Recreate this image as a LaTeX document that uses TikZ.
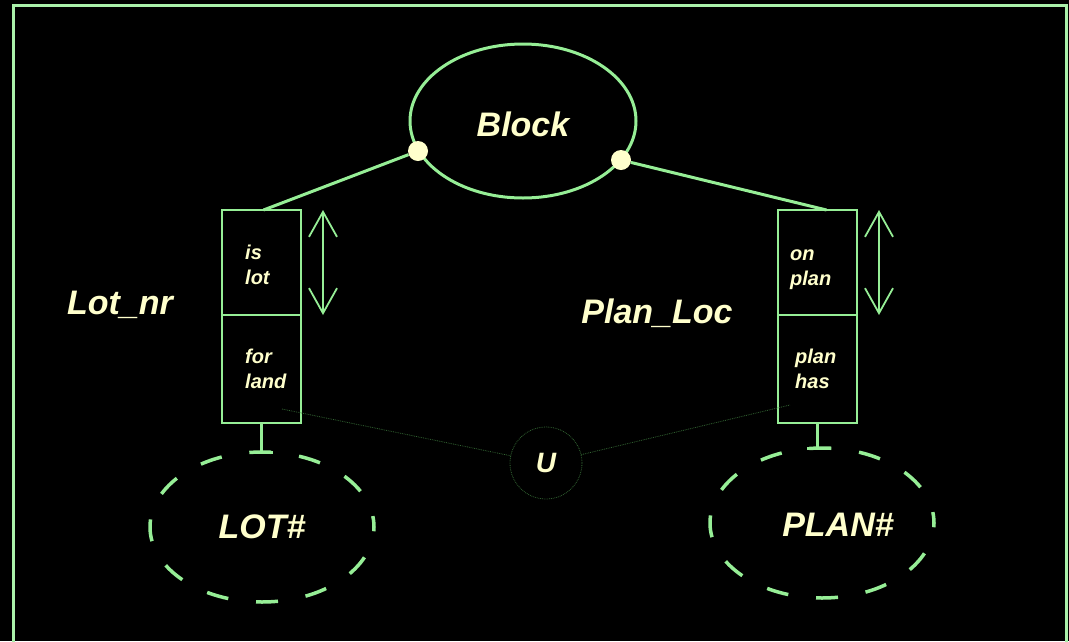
\documentclass[tikz,border=0pt]{standalone}
\usepackage{fontspec}
\setmainfont{Liberation Sans}
\usetikzlibrary{shapes.geometric,arrows.meta,positioning}
\definecolor{linegreen}{RGB}{150,238,150}
\definecolor{framegreen}{RGB}{170,240,170}
\definecolor{labelcream}{RGB}{255,255,204}
\definecolor{faintgreen}{RGB}{50,100,50}

\begin{document}
\begin{tikzpicture}[x=1pt,y=-1pt,
  bigtext/.style={text=labelcream,font=\fontsize{34}{38}\selectfont\bfseries\itshape},
  roletext/.style={text=labelcream,align=left,inner sep=0pt,
    font=\fontsize{20}{25}\selectfont\bfseries\itshape},
  rolebox/.style={draw=linegreen,line width=2pt,minimum width=79pt,
    inner sep=0pt,outer sep=0pt},
  entity/.style={ellipse,draw=linegreen,line width=3pt,minimum width=226pt,
    minimum height=154pt,inner sep=0pt,text height=32pt,bigtext},
  valueset/.style={ellipse,draw=linegreen,line width=3.5pt,
    dash pattern=on 22pt off 28pt,dash phase=11pt,minimum width=224pt,
    minimum height=150pt,inner sep=0pt,outer sep=0pt,bigtext},
  joint/.style={circle,fill=labelcream,minimum size=20pt,inner sep=0pt},
  union/.style={circle,draw=faintgreen,densely dotted,line width=0.8pt,
    minimum size=72pt,inner sep=0pt,text=labelcream,
    font=\fontsize{28}{32}\selectfont\bfseries\itshape},
  link/.style={linegreen,line width=3pt},
  thinlink/.style={faintgreen,densely dotted,line width=0.8pt},
  stem/.style={linegreen,line width=2.5pt,-{Bar[width=22pt,line width=3.5pt]}},
  updown/.style={linegreen,line width=1.8pt,
    {Straight Barb[length=25pt,width=28pt]}-{Straight Barb[length=25pt,width=28pt]}}]

  \useasboundingbox (0,0) rectangle (1069,641);
  \fill[black] (0,0) rectangle (1069,641);
  \draw[framegreen,line width=3pt] (13,5) rectangle (1066,690);

  % object type
  \node[entity] (block) at (523,121) {Block};
  \node[joint] (blockl) at (418,151) {};
  \node[joint] (blockr) at (621,160) {};

  % left role pair
  \node[rolebox,minimum height=105pt] (islot) at (261.5,262.5) {};
  \node[rolebox,minimum height=108pt,below=0pt of islot] (forland) {};
  \node[roletext,anchor=west] (islottext) at ([xshift=23pt,yshift=-2pt]islot.west) {is\\lot};
  \node[roletext,anchor=west] (forlandtext) at ([xshift=23pt]forland.west) {for\\land};

  % right role pair
  \node[rolebox,minimum height=105pt] (onplan) at (817.5,262.5) {};
  \node[rolebox,minimum height=108pt,below=0pt of onplan] (planhas) {};
  \node[roletext,anchor=west] (onplantext) at ([xshift=12pt,yshift=-7pt]onplan.west) {on\\plan};
  \node[roletext,anchor=west] (planhastext) at ([xshift=17pt]planhas.west) {plan\\has};

  % value types
  \node[valueset] (lotnum) at (262,527) {LOT\#};
  \node[valueset] (plannum) at (822,523) {};
  \node[bigtext] (plantext) at ([xshift=16pt,yshift=-2pt]plannum.center) {PLAN\#};

  \node[bigtext] (lotnr) at (120,305) {Lot\_nr};
  \node[bigtext] (planloc) at (657,313) {Plan\_Loc};

  \node[union] (u) at (546,463) {U};
  \coordinate (lotfoot) at (282,409);
  \coordinate (planfoot) at (790,405);

  \draw[link] (blockl) -- ([xshift=2pt]islot.north);
  \draw[link] (blockr) -- ([xshift=9pt]onplan.north);

  \draw[updown] ([xshift=22pt]islot.north east) -- ([xshift=22pt]islot.south east);
  \draw[updown] ([xshift=22pt]onplan.north east) -- ([xshift=22pt]onplan.south east);

  \draw[stem] (forland.south) -- ([yshift=-2pt]forland.south |- lotnum.north);
  \draw[stem] (planhas.south) -- ([yshift=-2pt]planhas.south |- plannum.north);

  \draw[thinlink] (lotfoot) -- (u);
  \draw[thinlink] (u) -- (planfoot);
\end{tikzpicture}
\end{document}
